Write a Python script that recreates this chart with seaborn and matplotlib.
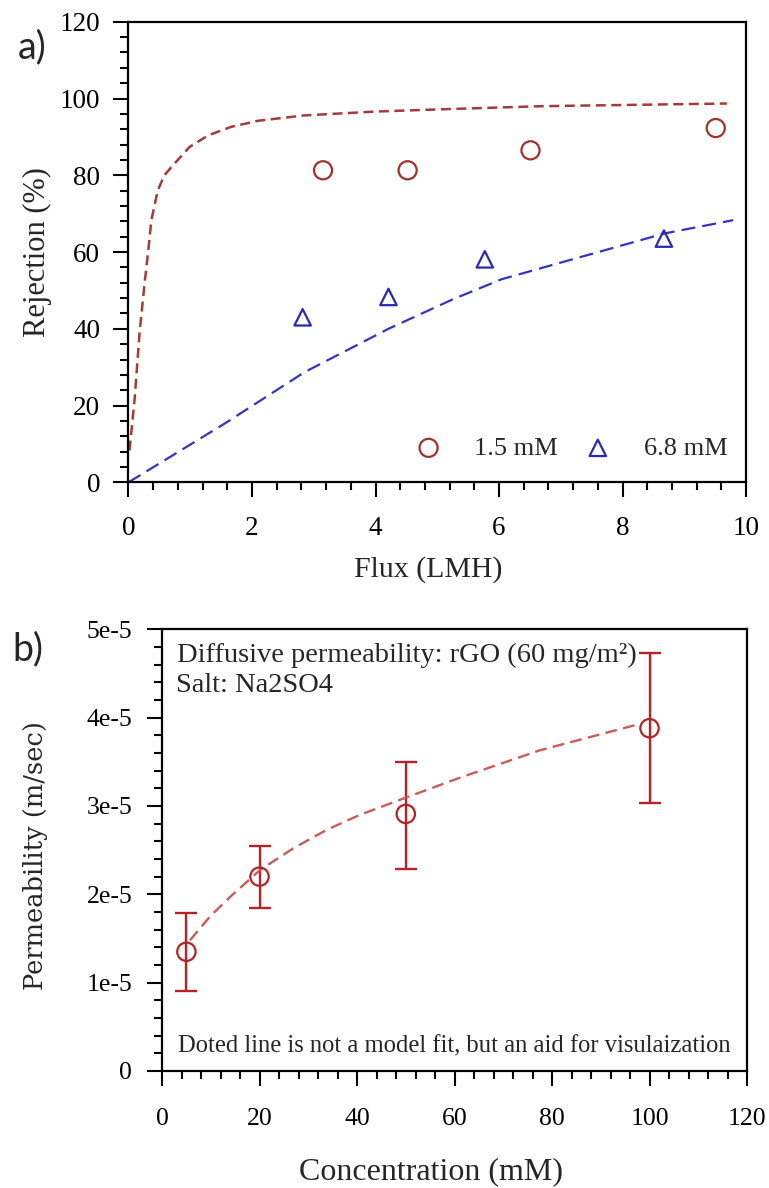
import numpy as np
import pandas as pd
import matplotlib
matplotlib.use("Agg")
import matplotlib.pyplot as plt
import seaborn as sns
from matplotlib.ticker import MultipleLocator

# ---------------- data: panel a ----------------
flux_15 = [3.15, 4.52, 6.51, 9.51]
rej_15 = [81.3, 81.3, 86.5, 92.3]
flux_68 = [2.82, 4.21, 5.77, 8.67]
rej_68 = [43.0, 48.3, 58.1, 63.5]
model15_x = [0.016, 0.097, 0.178, 0.26, 0.32, 0.37, 0.475, 0.58, 0.72, 0.99,
             1.29, 1.66, 2.10, 2.85, 4.0, 5.09, 6.69, 9.69]
model15_y = [8.3, 21.3, 38.7, 51.8, 60.4, 68.3, 76.1, 80.0, 82.6, 87.4,
             90.4, 92.6, 94.2, 95.6, 96.6, 97.2, 98.0, 98.7]
model68_x = [0.0, 1.556, 2.85, 4.21, 5.24, 6.04, 8.67, 9.79]
model68_y = [0.0, 15.3, 28.7, 40.0, 47.6, 52.9, 64.8, 68.3]
series_labels = ["1.5 mM", "6.8 mM"]

# ---------------- data: panel b ----------------
conc = [5, 20, 50, 100]
perm = [1.35e-5, 2.20e-5, 2.91e-5, 3.88e-5]
perm_hi = [1.79e-5, 2.55e-5, 3.50e-5, 4.73e-5]
perm_lo = [0.91e-5, 1.85e-5, 2.29e-5, 3.03e-5]
aid_x = [5.74, 9.85, 13.95, 20.1, 26.9, 33.8, 40.6, 49.8, 61.1, 77.5, 97.4]
aid_y = [1.48e-5, 1.75e-5, 1.97e-5, 2.275e-5, 2.52e-5, 2.73e-5, 2.90e-5,
         3.09e-5, 3.32e-5, 3.63e-5, 3.92e-5]
b_yticks = [0, 1e-5, 2e-5, 3e-5, 4e-5, 5e-5]
b_yticklabels = ["0", "1e-5", "2e-5", "3e-5", "4e-5", "5e-5"]

RED_A = "#a3302f"
RED_A_LINE = "#a43a3e"
BLUE_A = "#2a2ab0"
BLUE_A_LINE = "#3434c4"
RED_B = "#b52328"
RED_B_LINE = "#cc5a5a"

sns.set_theme(style="white")
plt.rcParams["font.family"] = ["Liberation Serif", "DejaVu Serif"]
plt.rcParams["axes.unicode_minus"] = False

fig = plt.figure(figsize=(7.69, 11.88), dpi=100)
axa = fig.add_axes([0.1671, 0.594, 0.803, 0.3877])
axb = fig.add_axes([0.2107, 0.0985, 0.7607, 0.3718])

# ---------------- panel a ----------------
sns.lineplot(x=model15_x, y=model15_y, ax=axa, color=RED_A_LINE, lw=1.8,
             linestyle=(0, (4, 2.2)), errorbar=None, sort=False)
sns.lineplot(x=model68_x, y=model68_y, ax=axa, color=BLUE_A_LINE, lw=1.6,
             linestyle=(0, (6.3, 3.2)), errorbar=None, sort=False)
sns.scatterplot(x=flux_15, y=rej_15, ax=axa, marker="o", s=170, color=RED_A,
                facecolors="none", edgecolor=RED_A, linewidth=1.6,
                label=series_labels[0], zorder=3)
sns.scatterplot(x=flux_68, y=rej_68, ax=axa, marker="^", s=140, color=BLUE_A,
                facecolors="none", edgecolor=BLUE_A, linewidth=1.6,
                label=series_labels[1], zorder=3)
axa.set_xlim(0, 10)
axa.set_ylim(0, 120)
axa.set_xticks([0, 2, 4, 6, 8, 10])
axa.set_yticks([0, 20, 40, 60, 80, 100, 120])
axa.xaxis.set_minor_locator(MultipleLocator(0.4))
axa.yaxis.set_minor_locator(MultipleLocator(4))
axa.set_xlabel("Flux (LMH)", fontsize=21.5, va="center")
axa.set_ylabel("Rejection (%)", fontsize=22, va="center")
axa.xaxis.set_label_coords(0.485, -0.19)
axa.yaxis.set_label_coords(-0.148, 0.5)
axa.tick_params(axis="x", which="major", pad=14, labelsize=19.5)
axa.tick_params(axis="y", which="major", pad=10, labelsize=19.5)
leg = axa.legend(ncol=2, frameon=False, loc="center right",
                 bbox_to_anchor=(0.97, 0.0745), borderpad=0, borderaxespad=0,
                 handlelength=1.0, handletextpad=1.24, columnspacing=1.0,
                 fontsize=19)

# ---------------- panel b ----------------
yerr = [np.array(perm) - np.array(perm_lo), np.array(perm_hi) - np.array(perm)]
axb.errorbar(conc, perm, yerr=yerr, fmt="none", ecolor=RED_B, elinewidth=1.7,
             capsize=8, capthick=1.7, zorder=2)
sns.lineplot(x=aid_x, y=aid_y, ax=axb, color=RED_B_LINE, lw=1.7,
             linestyle=(0, (5, 2.7)), errorbar=None, sort=False, zorder=2)
sns.scatterplot(x=conc, y=perm, ax=axb, marker="o", s=175, color=RED_B,
                facecolors="none", edgecolor=RED_B, linewidth=1.6, zorder=3)
axb.set_xlim(0, 120)
axb.set_ylim(0, 5e-5)
axb.set_xticks([0, 20, 40, 60, 80, 100, 120])
axb.set_yticks(b_yticks)
axb.set_yticklabels(b_yticklabels)
axb.xaxis.set_minor_locator(MultipleLocator(4))
axb.yaxis.set_minor_locator(MultipleLocator(2e-6))
axb.set_xlabel("Concentration (mM)", fontsize=23, va="center")
axb.set_ylabel("Permeability (m/sec)", fontsize=18.5, va="center",
               family=["DejaVu Serif"])
axb.xaxis.set_label_coords(0.46, -0.228)
axb.yaxis.set_label_coords(-0.217, 0.487)
axb.tick_params(axis="x", which="major", pad=16, labelsize=18.5)
axb.tick_params(axis="y", which="major", pad=11, labelsize=18.5)
axb.text(0.026, 0.927, "Diffusive permeability: rGO (60 mg/m\u00b2)",
         transform=axb.transAxes, fontsize=20.5, va="baseline", ha="left")
axb.text(0.024, 0.859, "Salt: Na2SO4", transform=axb.transAxes,
         fontsize=20.5, va="baseline", ha="left")
axb.text(0.028, 0.041, "Doted line is not a model fit, but an aid for visulaization",
         transform=axb.transAxes, fontsize=17.7, va="baseline", ha="left")

for ax in (axa, axb):
    for sp in ax.spines.values():
        sp.set_visible(True)
        sp.set_color("black")
        sp.set_linewidth(1.6)
    ax.tick_params(which="both", direction="out", bottom=True, left=True,
                   top=False, right=False, colors="black", width=1.5)
    ax.tick_params(which="major", length=10.5)
    ax.tick_params(which="minor", length=5.8)
    ax.grid(False)

fig.text(0.0416, 0.960, "a)", family=["Lato", "DejaVu Sans"], fontsize=27,
         ha="center", va="center")
fig.text(0.0364, 0.4537, "b)", family=["Lato", "DejaVu Sans"], fontsize=27,
         ha="center", va="center")

fig.savefig("out.png", dpi=100)
